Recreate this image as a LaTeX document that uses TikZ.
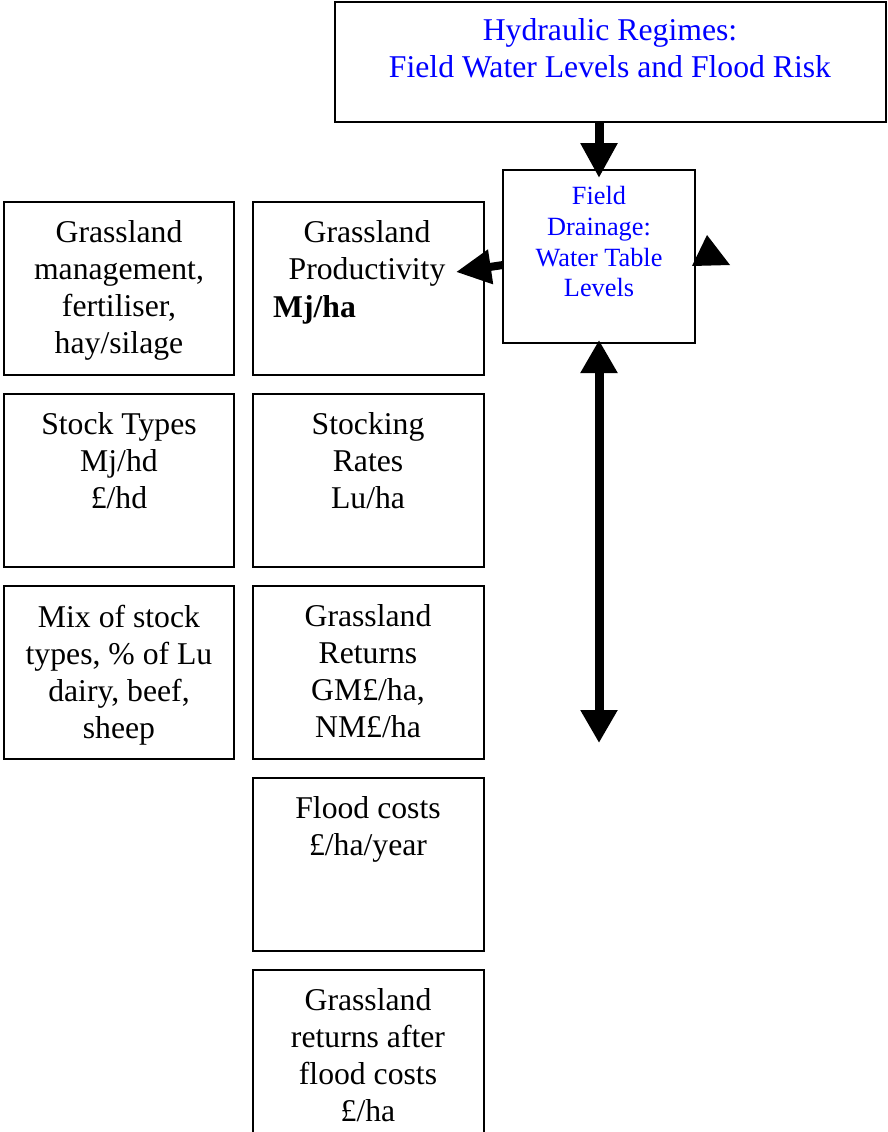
\documentclass[tikz,border=0pt]{standalone}
\usepackage{fontspec}
\setmainfont{Liberation Serif}
\usetikzlibrary{arrows.meta}
\definecolor{txtblue}{RGB}{0,0,255}
\begin{document}
\begin{tikzpicture}[x=1pt,y=-1pt,
  box/.style={draw, line width=1.5pt, inner sep=0pt, outer sep=0pt, minimum width=231pt, minimum height=173pt, anchor=north west},
  txt/.style={anchor=north, inner sep=0pt, align=center, font=\fontsize{31.7}{37}\selectfont},
  bluetxt/.style={txt, text=txtblue},
  fathead/.style={-{Triangle[length=35pt,width=35pt]}},
]
\useasboundingbox (0,0) rectangle (888,1132);
% boxes
\node[box, minimum width=551pt, minimum height=120pt] (hyd) at (335,2) {};
\node[box, minimum width=192pt, minimum height=173pt] (fd) at (503,170) {};
\node[box, minimum width=230pt] (l1) at (4,202) {};
\node[box, minimum width=230pt] (l2) at (4,394) {};
\node[box, minimum width=230pt] (l3) at (4,586) {};
\node[box] (m1) at (253,202) {};
\node[box] (m2) at (253,394) {};
\node[box] (m3) at (253,586) {};
\node[box] (m4) at (253,778) {};
\node[box] (m5) at (253,970) {};
% texts
\node[bluetxt] (hydt) at (610,18.5) {Hydraulic Regimes:\\Field Water Levels and Flood Risk};
\node[bluetxt, font=\fontsize{26.3}{30.7}\selectfont] (fdt) at (599,186.3) {Field\\Drainage:\\Water Table\\Levels};
\node[txt] (l1t) at (119,220.5) {Grassland\\management,\\fertiliser,\\hay/silage};
\node[txt] (l2t) at (119,412.5) {Stock Types\\Mj/hd\\£/hd};
\node[txt] (l3t) at (119,604.5) {Mix of stock\\types, \% of Lu\\dairy, beef,\\sheep};
\node[txt] (m1t) at (367,220.5) {Grassland\\Productivity};
\node[txt, anchor=base west] (m1u) at (273,317) {\textbf{Mj/ha}};
\node[txt] (m2t) at (368,412.5) {Stocking\\Rates\\Lu/ha};
\node[txt] (m3t) at (368,604.5) {Grassland\\Returns\\GM£/ha,\\NM£/ha};
\node[txt] (m4t) at (368,796.5) {Flood costs\\£/ha/year};
\node[txt] (m5t) at (368,988.5) {Grassland\\returns after\\flood costs\\£/ha};
% connectors
\coordinate (prodtip) at (456,272);
\coordinate (downtip) at (599,743);
\draw[line width=9pt, fathead, shorten >=-8pt] (hyd.south -| fd.north) -- (fd.north);
\draw[line width=8pt, -{Triangle[length=35pt,width=33pt]}] ([yshift=-8.5pt]fd.west) -- (prodtip);
\draw[line width=9pt, {Triangle[length=33pt,width=35pt]}-{Triangle[length=33pt,width=35pt]}, shorten <=-3pt] (fd.south) -- (downtip);
% stray arrowhead
\fill (692,266) -- (707,235) -- (730,265) -- cycle;
\end{tikzpicture}
\end{document}
